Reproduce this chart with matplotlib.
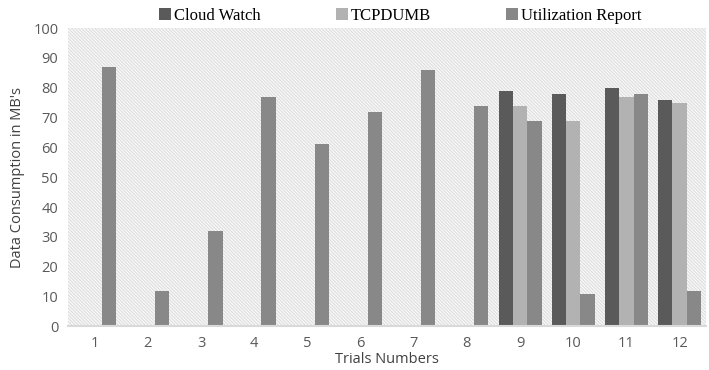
import numpy as np
import matplotlib.pyplot as plt
from matplotlib.patches import Rectangle

# 数据
trials = ['1', '2', '3', '4', '5', '6', '7', '8', '9', '10', '11', '12']
cloud_watch = [0, 0, 0, 0, 0, 0, 0, 0, 79, 78, 80, 76]
tcpdumb = [0, 0, 0, 0, 0, 0, 0, 0, 74, 69, 77, 75]
utilization = [87, 12, 32, 77, 61, 72, 86, 74, 69, 11, 78, 12]

plt.rcParams['hatch.color'] = '#d8d8d8'
plt.rcParams['hatch.linewidth'] = 0.6

fig = plt.figure(figsize=(7.09, 3.70), dpi=100)
ax = fig.add_axes([0.096, 0.118, 0.9, 0.806])

# 背景斜线
ax.add_patch(Rectangle((0, 0), 1, 1, transform=ax.transAxes, facecolor='#f7f7f7',
                       edgecolor='#d8d8d8', hatch='\\' * 10, lw=0, zorder=0))

x = np.arange(len(trials))
w = 0.27
ax.bar(x - w, cloud_watch, w, color='#5a5a5a', label='Cloud Watch', zorder=2)
ax.bar(x, tcpdumb, w, color='#b2b2b2', label='TCPDUMB', zorder=2)
ax.bar(x + w, utilization, w, color='#888888', label='Utilization Report', zorder=2)

ax.set_xlim(-0.5, len(trials) - 0.5)
ax.set_ylim(0, 100)
ax.set_yticks(range(0, 101, 10))
ax.set_xticks(x)
ax.set_xticklabels(trials)
ax.tick_params(length=0, labelsize=10.5, colors='#595959', pad=7)
for lab in ax.get_xticklabels() + ax.get_yticklabels():
    lab.set_family('Open Sans')
for s in ['top', 'right', 'left']:
    ax.spines[s].set_visible(False)
ax.spines['bottom'].set_color('#d9d9d9')
ax.spines['bottom'].set_linewidth(1.5)

ax.set_xlabel('Trials Numbers', fontsize=10.5, color='#404040', family='Open Sans', labelpad=1)
ax.set_ylabel("Data Consumption in MB's", fontsize=10.5, color='#404040', family='Open Sans', labelpad=6)

leg = fig.legend(loc='upper center', bbox_to_anchor=(0.565, 1.02), ncol=3, frameon=False,
                 prop={'family': 'Liberation Serif', 'size': 12}, handlelength=0.7, handleheight=0.7,
                 handletextpad=0.2, columnspacing=4.5)

fig.savefig('out.png', dpi=100)
